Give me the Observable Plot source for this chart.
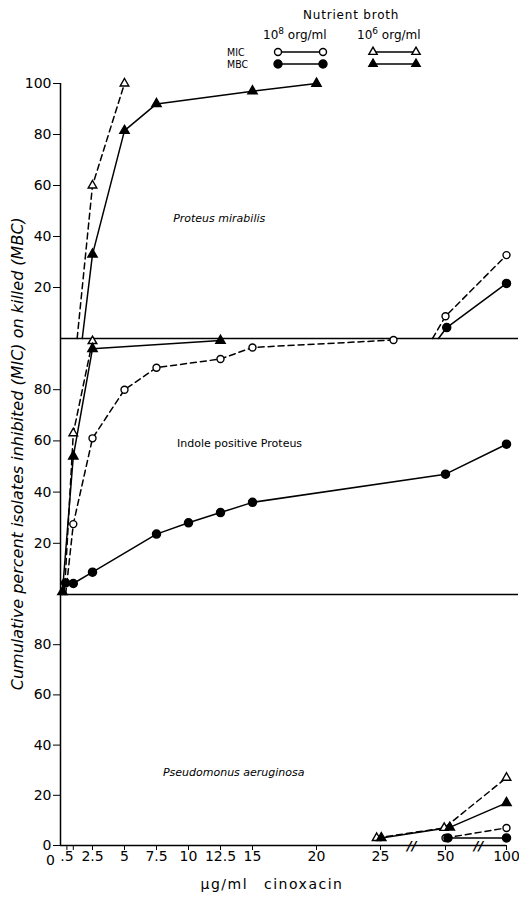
<!DOCTYPE html>
<html><head><meta charset="utf-8">
<script src="https://cdn.jsdelivr.net/npm/d3@7"></script>
<script src="https://cdn.jsdelivr.net/npm/@observablehq/plot@0.6"></script>
<style>
body{margin:0;background:#fff;}
#wrap{width:519px;height:903px;position:relative;font-family:"DejaVu Sans",sans-serif;color:#000;}
#legend{position:absolute;left:0;top:0;}
#chart{position:absolute;left:0;top:70px;}
#xtitle{position:absolute;left:0;top:876px;width:544px;text-align:center;font-size:14px;letter-spacing:1.5px;word-spacing:10px;}
</style></head><body>
<div id="wrap"><svg id="legend" width="519" height="70"></svg><div id="chart"></div><div id="xtitle">µg/ml cinoxacin</div></div>
<script>
// ---------- data ----------
// x ticks (µg/ml cinoxacin); broken axis after 25
const xTicks = [0.5, 1, 2.5, 5, 7.5, 10, 12.5, 15, 20, 25, 50, 100];
const xTickLabels = [".5", "", "2.5", "5", "7.5", "10", "12.5", "15", "20", "25", "50", "100"];
const xBreaks = [37, 77];
// y: three stacked 0-100 panels (bottom: offset 0, middle: 100, top: 200)
const yTicks = [0, 20, 40, 60, 80, 120, 140, 160, 180, 220, 240, 260, 280, 300];
const yTickLabels = ["0", "20", "40", "60", "80", "20", "40", "60", "80", "20", "40", "60", "80", "100"];
const panelNames = ["Proteus mirabilis", "Indole positive Proteus", "Pseudomonus aeruginosa"];
const panelBase = [200, 100, 0];
const panelTitleX = [8.8, 9.1, 8.0];
const panelTitleY = [47, 59, 29];
const yLabel = "Cumulative percent isolates inhibited (MIC) on killed (MBC)";

// Proteus mirabilis
const pmMic6X = [1.3, 2.5, 5];            const pmMic6Y = [0, 60, 100];
const pmMbc6X = [1.7, 2.5, 5, 7.5, 15, 20]; const pmMbc6Y = [0, 33, 81.5, 92, 97, 100];
const pmMic8X = [45, 50, 100];             const pmMic8Y = [0, 8.7, 32.7];
const pmMbc8X = [47.3, 51, 100];           const pmMbc8Y = [0, 4.3, 21.6];
// Indole positive Proteus
const ipMic6X = [0.3, 1, 2.5];             const ipMic6Y = [0, 63, 99];
const ipMbc6X = [0.15, 1, 2.5, 12.5];      const ipMbc6Y = [1, 54, 96, 99.2];
const ipMic8X = [0.4, 1, 2.5, 5, 7.5, 12.5, 15, 30]; const ipMic8Y = [0, 27.5, 61, 80, 88.6, 92, 96.5, 99.4];
const ipMbc8X = [0.15, 0.4, 1, 2.5, 7.5, 10, 12.5, 15, 50, 100]; const ipMbc8Y = [0, 4.5, 4.3, 8.7, 23.6, 28, 32, 36, 47, 58.7];
// Pseudomonus aeruginosa
const paMic6X = [24.7, 49.5, 100];         const paMic6Y = [3, 7, 27];
const paMbc6X = [25.3, 53.5, 100];         const paMbc6Y = [3, 7.2, 17];
const paMic8X = [50, 100];                 const paMic8Y = [3, 7];
const paMbc8X = [52, 100];                 const paMbc8Y = [3, 3];

// series: [id, xs, ys, panel index, leading unmarked vertices, inoculum, test]
const seriesList = [
  ["pmMic6", pmMic6X, pmMic6Y, 0, 1, "1e6", "MIC"],
  ["pmMbc6", pmMbc6X, pmMbc6Y, 0, 1, "1e6", "MBC"],
  ["pmMic8", pmMic8X, pmMic8Y, 0, 1, "1e8", "MIC"],
  ["pmMbc8", pmMbc8X, pmMbc8Y, 0, 1, "1e8", "MBC"],
  ["ipMic6", ipMic6X, ipMic6Y, 1, 1, "1e6", "MIC"],
  ["ipMbc6", ipMbc6X, ipMbc6Y, 1, 0, "1e6", "MBC"],
  ["ipMic8", ipMic8X, ipMic8Y, 1, 1, "1e8", "MIC"],
  ["ipMbc8", ipMbc8X, ipMbc8Y, 1, 1, "1e8", "MBC"],
  ["paMic6", paMic6X, paMic6Y, 2, 0, "1e6", "MIC"],
  ["paMbc6", paMbc6X, paMbc6Y, 2, 0, "1e6", "MBC"],
  ["paMic8", paMic8X, paMic8Y, 2, 0, "1e8", "MIC"],
  ["paMbc8", paMbc8X, paMbc8Y, 2, 0, "1e8", "MBC"]
];

const rows = [];
for (const [id, xs, ys, p, lead, inoc, test] of seriesList) {
  xs.forEach((x, i) => rows.push({id, x, y: ys[i] + panelBase[p], mark: i >= lead, inoc, test}));
}
const pts = rows.filter(d => d.mark);
const titles = panelNames.map((t, i) => ({t, x: panelTitleX[i], y: panelTitleY[i] + panelBase[i], italic: i !== 1}));

const chart = Plot.plot({
  width: 519,
  height: 800,
  marginLeft: 60,
  marginRight: 1,
  marginTop: 13,
  marginBottom: 25,
  style: {fontFamily: "DejaVu Sans, sans-serif", fontSize: "14px", background: "#fff", color: "#000"},
  x: {type: "linear", domain: [0, 25, 50, 100], range: [60, 380, 445, 506], ticks: xTicks,
      tickFormat: d => xTickLabels[xTicks.indexOf(d)], tickSize: 5, tickPadding: 1, label: null},
  y: {type: "linear", domain: [0, 100, 200, 300], range: [775, 524, 268, 13], ticks: yTicks,
      tickFormat: d => yTickLabels[yTicks.indexOf(d)], tickSize: 7, tickPadding: 2, label: null},
  marks: [
    Plot.ruleX([0], {y1: 0, y2: 300, strokeWidth: 1.5}),
    Plot.ruleY([100, 200], {strokeWidth: 1.5}),
    Plot.ruleY([0], {x1: 0, x2: 100, strokeWidth: 1.5}),
    Plot.text(xBreaks.map(x => ({x})), {x: "x", y: () => 0, text: () => "//", fontSize: 13, fontWeight: "bold", fontStyle: "italic"}),
    Plot.text([{x: 0, y: 0}], {x: "x", y: "y", text: () => "0", dx: -10, dy: 15, fontSize: 14}),
    Plot.line(rows.filter(d => d.test === "MIC"), {x: "x", y: "y", z: "id", stroke: "#000", strokeWidth: 1.5, strokeDasharray: "6,4"}),
    Plot.line(rows.filter(d => d.test === "MBC"), {x: "x", y: "y", z: "id", stroke: "#000", strokeWidth: 1.5}),
    Plot.dot(pts.filter(d => d.inoc === "1e8" && d.test === "MIC"), {x: "x", y: "y", r: 3.5, fill: "#fff", stroke: "#000", strokeWidth: 1.4}),
    Plot.dot(pts.filter(d => d.inoc === "1e8" && d.test === "MBC"), {x: "x", y: "y", r: 4, fill: "#000", stroke: "#000"}),
    Plot.dot(pts.filter(d => d.inoc === "1e6" && d.test === "MIC"), {x: "x", y: "y", r: 3.2, symbol: "triangle", fill: "#fff", stroke: "#000", strokeWidth: 1.4}),
    Plot.dot(pts.filter(d => d.inoc === "1e6" && d.test === "MBC"), {x: "x", y: "y", r: 3.4, symbol: "triangle", fill: "#000", stroke: "#000"}),
    Plot.text(titles.filter(d => d.italic), {x: "x", y: "y", text: "t", textAnchor: "start", fontSize: 11, fontStyle: "italic"}),
    Plot.text(titles.filter(d => !d.italic), {x: "x", y: "y", text: "t", textAnchor: "start", fontSize: 11}),
    Plot.text([{y: 155, t: yLabel}], {y: "y", text: "t", frameAnchor: "left", textAnchor: "middle", dx: -43, rotate: -90, fontSize: 16, fontStyle: "italic", style: {letterSpacing: "1.4px", wordSpacing: "7px"}})
  ]
});
document.getElementById("chart").appendChild(chart);

// ---------- legend ----------
const lg = d3.select("#legend");
const lf = "DejaVu Sans, sans-serif";
lg.append("text").attr("x", 303).attr("y", 19).attr("font-size", 12).attr("font-family", lf).attr("letter-spacing", 0.8).text("Nutrient broth");
const inocLabels = [{x: 263, e: "8"}, {x: 357, e: "6"}];
for (const o of inocLabels) {
  const t = lg.append("text").attr("x", o.x).attr("y", 39).attr("font-size", 12).attr("font-family", lf);
  t.append("tspan").text("10");
  t.append("tspan").attr("dy", -5).attr("font-size", 9).text(o.e);
  t.append("tspan").attr("dy", 5).text(" org/ml");
}
const rowsL = [{t: "MIC", y: 52, fill: "#fff"}, {t: "MBC", y: 64, fill: "#000"}];
for (const r of rowsL) {
  lg.append("text").attr("x", 227).attr("y", r.y + 4).attr("font-size", 10.5).attr("font-family", "DejaVu Sans Condensed, DejaVu Sans, sans-serif").text(r.t);
  lg.append("line").attr("x1", 278).attr("x2", 323).attr("y1", r.y).attr("y2", r.y).attr("stroke", "#000").attr("stroke-width", 1.5);
  lg.append("line").attr("x1", 373).attr("x2", 416).attr("y1", r.y).attr("y2", r.y).attr("stroke", "#000").attr("stroke-width", 1.5);
  for (const x of [278, 323]) lg.append("circle").attr("cx", x).attr("cy", r.y).attr("r", r.fill === "#000" ? 4 : 3.5).attr("fill", r.fill).attr("stroke", "#000").attr("stroke-width", 1.4);
  const tri = d3.symbol(d3.symbolTriangle, 30)();
  for (const x of [373, 416]) lg.append("path").attr("d", tri).attr("transform", `translate(${x},${r.y})`).attr("fill", r.fill).attr("stroke", "#000").attr("stroke-width", 1.4);
}
</script>
</body></html>
